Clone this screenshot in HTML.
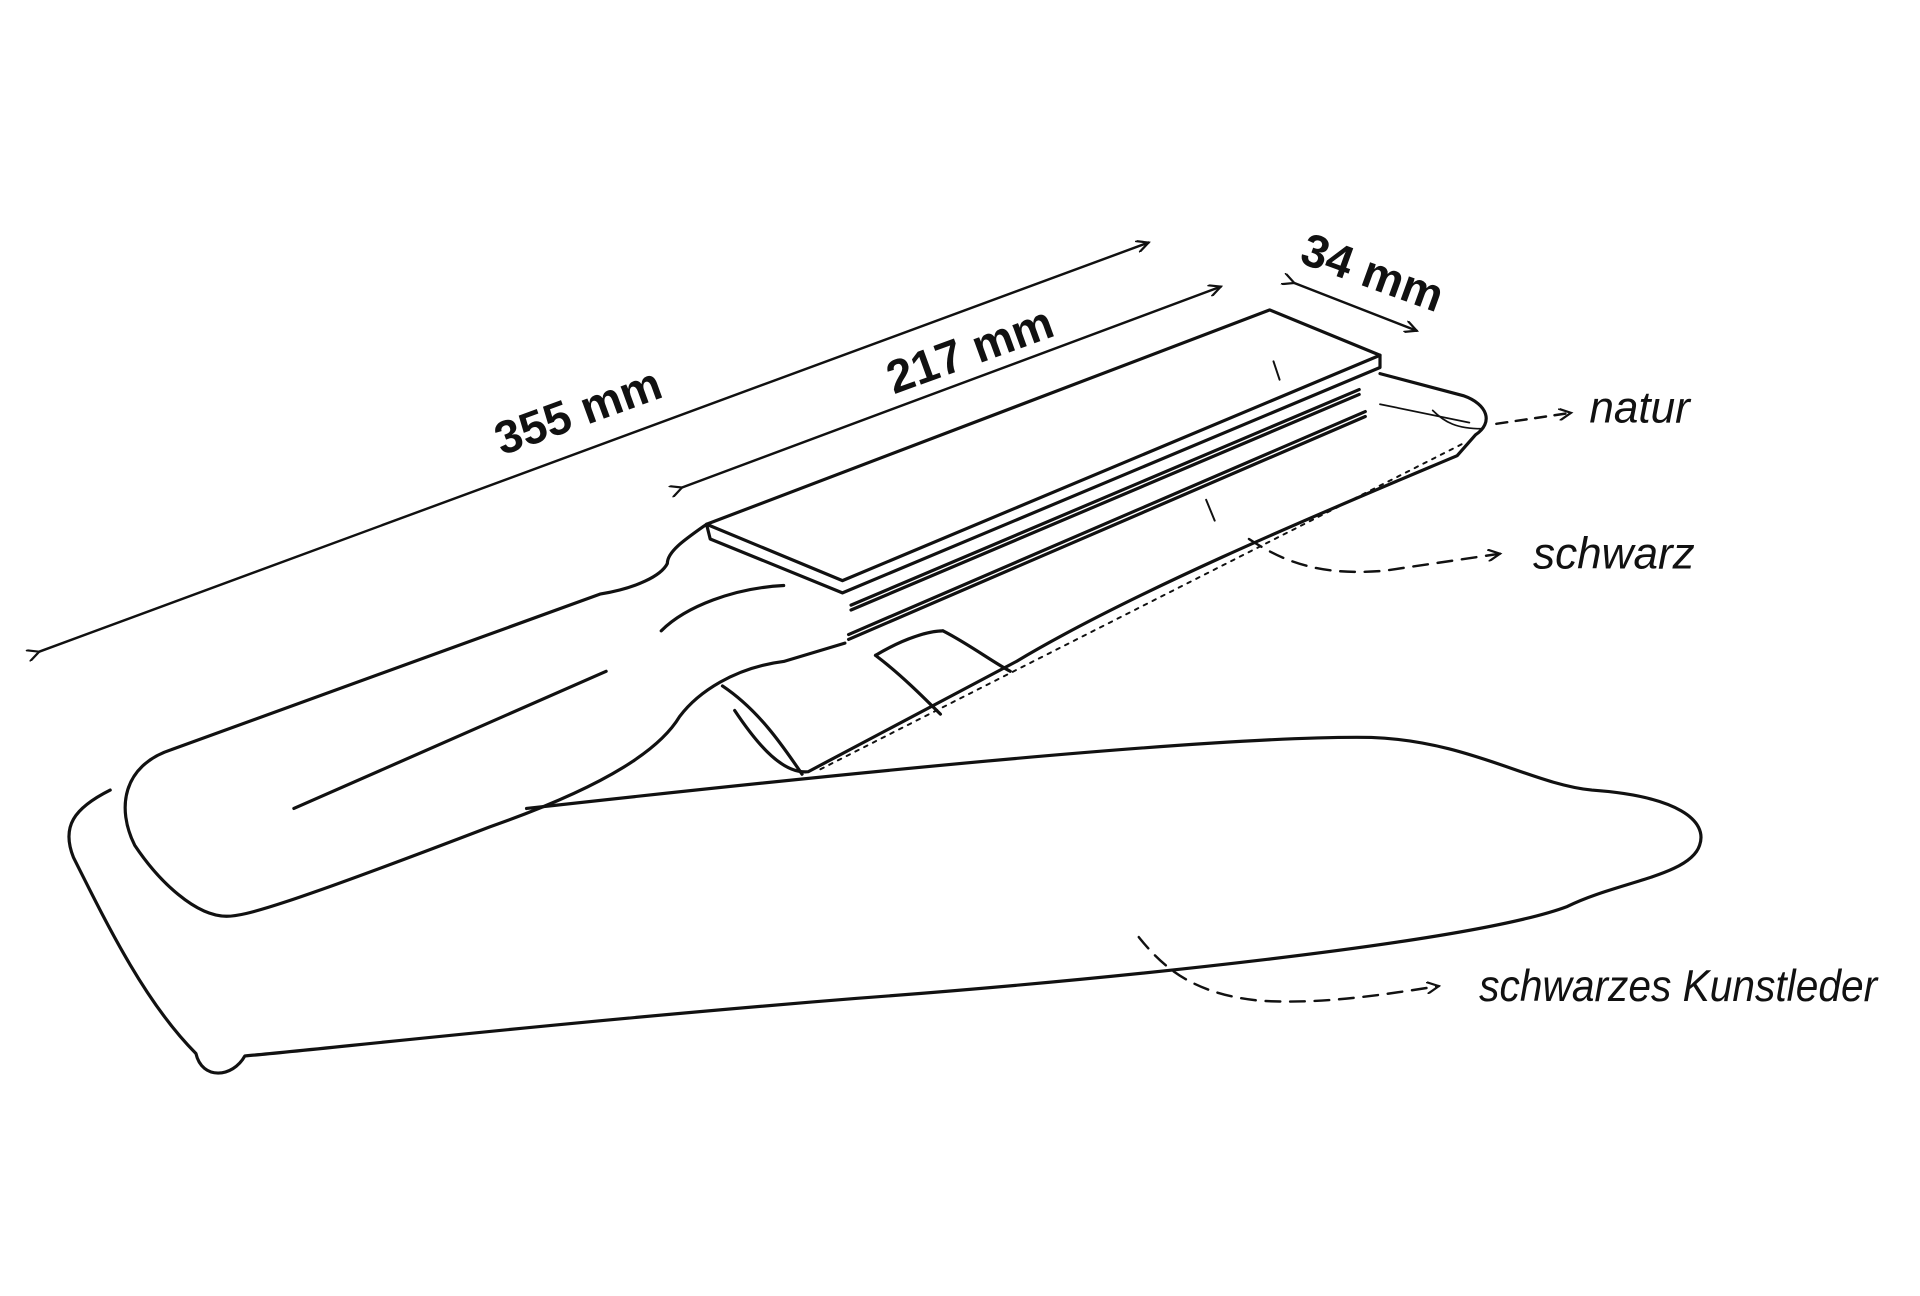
<!DOCTYPE html>
<html><head><meta charset="utf-8"><style>
html,body{margin:0;padding:0;background:#fff}
svg{display:block}
text{font-family:"Liberation Sans",sans-serif;fill:#111}
</style></head><body>
<svg width="1920" height="1296" viewBox="0 0 1568 1058" preserveAspectRatio="none" xmlns="http://www.w3.org/2000/svg">
<defs>
<marker id="ah" markerWidth="12" markerHeight="10" refX="10" refY="5" orient="auto" markerUnits="userSpaceOnUse">
<path d="M0,0 L10,5 L0,10" fill="none" stroke="#111" stroke-width="1.8"/></marker>
</defs>
<g fill="none" stroke="#111" stroke-width="2.6" stroke-linecap="round" stroke-linejoin="round">
<line x1="32" y1="532" x2="938" y2="198" marker-start="url(#ah)" marker-end="url(#ah)" stroke-width="2"/>
<line x1="557" y1="398" x2="997" y2="234" marker-start="url(#ah)" marker-end="url(#ah)" stroke-width="2"/>
<line x1="1057" y1="231" x2="1157" y2="270" marker-start="url(#ah)" marker-end="url(#ah)" stroke-width="2"/>
<path d="M430,660 C700,630 1000,600 1120,602 C1200,605 1250,640 1300,645 C1370,650 1395,670 1388,690 C1380,715 1320,720 1280,740 C1200,770 900,800 700,815 C450,835 250,858 200,862 C190,880 165,882 160,860 C120,820 90,760 60,700 C50,675 60,660 90,645"/>
<path d="M577,428 C560,440 545,450 545,460 C540,470 520,480 490,485 L140,612 C100,625 95,660 110,690 C130,720 160,748 185,748 C200,748 230,740 400,675 C500,640 540,610 555,585 C570,565 600,545 640,540 L690,525"/>
<path d="M540,515 C560,495 600,480 640,478"/>
<line x1="240" y1="660" x2="495" y2="548"/>
<path d="M577,428 L1037,253 L1127,290 L688,474 Z"/>
<path d="M577,428 L580,440 L688,484 L1127,300 L1127,290"/>
<line x1="695" y1="494" x2="1110" y2="318"/>
<line x1="695" y1="498" x2="1110" y2="322"/>
<line x1="693" y1="518" x2="1115" y2="336"/>
<line x1="693" y1="522" x2="1115" y2="340"/>
<path d="M1127,305 L1195,323 C1215,330 1220,345 1205,355 L1190,372 C1100,410 930,480 830,540 L660,630 C640,632 620,610 600,580"/>
<path d="M1127,330 L1200,345" stroke-width="1.4"/>
<path d="M1170,335 C1180,345 1190,350 1210,350" stroke-width="1.4"/>
<line x1="670" y1="628" x2="1195" y2="362" stroke-dasharray="3,5" stroke-width="1.6"/>
<path d="M590,560 C620,580 640,610 655,632"/>
<path d="M715,535 C735,550 755,570 768,583"/>
<path d="M770,515 C790,525 810,540 825,548"/>
<path d="M715,535 C740,520 760,515 770,515"/>
<path d="M1040,295 L1045,310" stroke-width="1.6"/>
<path d="M985,408 L992,425" stroke-width="1.6"/>
<path d="M1222,346 L1283,337" stroke-dasharray="9,7" marker-end="url(#ah)" stroke-width="2"/>
<path d="M1020,440 C1050,460 1080,470 1130,466 L1225,452" stroke-dasharray="12,8" marker-end="url(#ah)" stroke-width="2"/>
<path d="M930,765 C950,790 975,812 1030,817 C1080,820 1130,812 1175,805" stroke-dasharray="12,8" marker-end="url(#ah)" stroke-width="2"/>
</g>
<g font-weight="bold" font-size="38">
<text transform="translate(410,372) rotate(-20)">355 mm</text>
<text transform="translate(730,322) rotate(-20)">217 mm</text>
<text transform="translate(1060,214) rotate(20)">34 mm</text>
</g>
<g font-style="italic" font-size="36">
<text x="1298" y="345">natur</text>
<text x="1252" y="464">schwarz</text>
<text x="1208" y="817" textLength="325" lengthAdjust="spacingAndGlyphs">schwarzes Kunstleder</text>
</g>
</svg>
</body></html>
